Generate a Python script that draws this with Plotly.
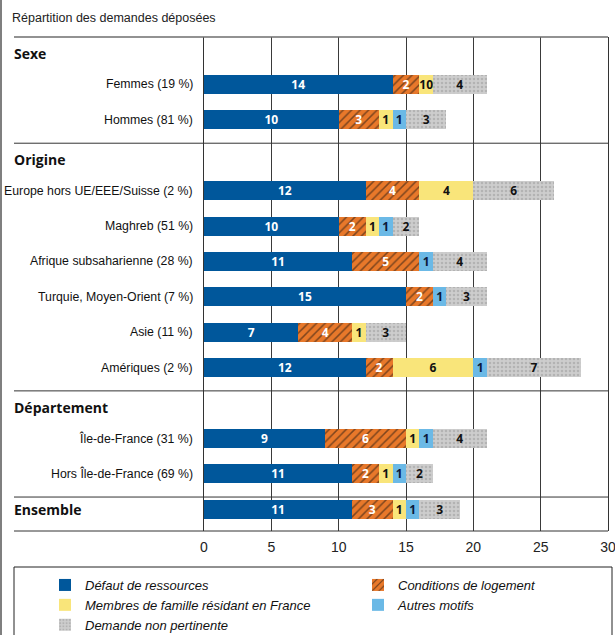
import plotly.graph_objects as go

# ---------------- data ----------------
title_text = "Répartition des demandes déposées"
sections = ["Sexe", "Origine", "Département", "Ensemble"]
rows = ["Femmes (19 %)", "Hommes (81 %)",
        "Europe hors UE/EEE/Suisse (2 %)", "Maghreb (51 %)",
        "Afrique subsaharienne (28 %)", "Turquie, Moyen-Orient (7 %)",
        "Asie (11 %)", "Amériques (2 %)",
        "Île-de-France (31 %)", "Hors Île-de-France (69 %)",
        "Ensemble"]
row_section = [0, 0, 1, 1, 1, 1, 1, 1, 2, 2, 3]

series_names = ["Défaut de ressources", "Conditions de logement",
                "Membres de famille résidant en France", "Autres motifs",
                "Demande non pertinente"]
defaut = [14, 10, 12, 10, 11, 15, 7, 12, 9, 11, 11]
logement = [2, 3, 4, 2, 5, 2, 4, 2, 6, 2, 3]
famille = [1, 1, 4, 1, 0, 0, 1, 6, 1, 1, 1]
autres = [0, 1, 0, 1, 1, 1, 0, 1, 1, 1, 1]
non_pertinente = [4, 3, 6, 2, 4, 3, 3, 7, 4, 2, 3]
# labels as printed in the source (Femmes: "1" and "0" printed together)
famille_labels = ["10", "1", "4", "1", "", "", "1", "6", "1", "1", "1"]

x_ticks = [0, 5, 10, 15, 20, 25, 30]

# ---------------- layout helpers ----------------
W, H = 615, 635
ML, MR, MT, MB = 204, 7, 37, 104
PW, PH = W - ML - MR, H - MT - MB
FONT = "Liberation Sans, Arial, sans-serif"
BOLD = "Open Sans, Liberation Sans, Arial, sans-serif"

# slots: each section header gets its own slot, except "Ensemble" which shares its row
slots = []
header_slot = {}
for si, sec in enumerate(sections):
    sec_rows = [r for r, s in zip(rows, row_section) if s == si]
    header_slot[si] = len(slots)
    if sec != "Ensemble":
        slots.append("hdr_" + sec)
    slots.extend(sec_rows)

r_top, r_bot = -0.342, len(slots) - 0.38


def px_x(p):
    return (p - ML) / PW


def px_y(p):
    return (H - MB - p) / PH


def slot_to_paper(s):
    return (r_bot - s) / (r_bot - r_top)


colors = ["#00579B", "#E8782A", "#F9E57A", "#6BB9E6", "#C9C9C9"]
text_colors = ["white", "white", "#111111", "#0b1a3a", "#111111"]
patterns = [dict(shape=""),
            dict(shape="/", fgcolor="#111111", bgcolor="#E8782A", size=6, solidity=0.25),
            dict(shape=""),
            dict(shape=""),
            dict(shape=".", fgcolor="#9A9A9A", bgcolor="#CDCDCD", size=4, solidity=0.35)]
values = [defaut, logement, famille, autres, non_pertinente]
labels = [[str(v) if v else "" for v in defaut],
          [str(v) if v else "" for v in logement],
          famille_labels,
          [str(v) if v else "" for v in autres],
          [str(v) if v else "" for v in non_pertinente]]
legend_ref = ["legend", "legend2", "legend", "legend2", "legend"]

fig = go.Figure()
for i in range(5):
    fig.add_trace(go.Bar(
        y=rows, x=values[i], orientation="h", name=series_names[i],
        marker=dict(color=colors[i], line=dict(width=0), pattern=patterns[i]),
        text=labels[i], textposition="inside", insidetextanchor="middle",
        textangle=0, constraintext="none",
        insidetextfont=dict(color=text_colors[i], size=12, family=BOLD, weight="bold"),
        legend=legend_ref[i], hoverinfo="skip",
    ))

annotations = []
# title
annotations.append(dict(text=title_text, xref="paper", yref="paper",
                        x=px_x(10), y=px_y(18), xanchor="left", yanchor="middle",
                        showarrow=False, font=dict(family=FONT, size=12.5, color="#222")))
# section headers
hdr_shift = {0: -4, 1: -4, 2: -5, 3: 0}
for si, sec in enumerate(sections):
    annotations.append(dict(text="<b>" + sec + "</b>", xref="paper", yref="paper",
                            x=px_x(12), y=slot_to_paper(header_slot[si]),
                            yshift=hdr_shift[si],
                            xanchor="left", yanchor="middle", showarrow=False,
                            font=dict(family=BOLD, size=14, color="#111")))
# row labels
for r, s in zip(rows, row_section):
    if sections[s] == "Ensemble":
        continue
    annotations.append(dict(text=r, xref="paper", yref="paper",
                            x=px_x(195), y=slot_to_paper(slots.index(r)),
                            xanchor="right", yanchor="middle", showarrow=False,
                            font=dict(family=FONT, size=12.3, color="#111")))

shapes = []
line_c = "#333333"
# top and bottom full-width lines
shapes.append(dict(type="line", xref="paper", yref="paper", x0=px_x(14), x1=1,
                   y0=1, y1=1, line=dict(color="#6e6e6e", width=1.5)))
shapes.append(dict(type="line", xref="paper", yref="paper", x0=px_x(14), x1=1,
                   y0=0, y1=0, line=dict(color=line_c, width=1)))
# section separators
for si in range(1, len(sections)):
    yp = slot_to_paper(header_slot[si] - 0.34)
    shapes.append(dict(type="line", xref="paper", yref="paper", x0=px_x(14), x1=1,
                       y0=yp, y1=yp, line=dict(color=line_c, width=1)))
# outer left frame
shapes.append(dict(type="line", xref="paper", yref="paper", x0=px_x(1), x1=px_x(1),
                   y0=px_y(H + 5), y1=px_y(-5), line=dict(color="#555", width=1.5)))
# legend box
shapes.append(dict(type="rect", xref="paper", yref="paper", x0=px_x(14), x1=px_x(612),
                   y0=px_y(H + 5), y1=px_y(567), line=dict(color="#222", width=1),
                   fillcolor="rgba(0,0,0,0)"))

legend_font = dict(family=FONT, size=13, color="#111", style="italic")
fig.update_layout(
    width=W, height=H, autosize=False,
    margin=dict(l=ML, r=MR, t=MT, b=MB, pad=0, autoexpand=False),
    paper_bgcolor="white", plot_bgcolor="white",
    barmode="stack", bargap=0.463,
    uniformtext=dict(minsize=12, mode="show"),
    font=dict(family=FONT, size=14, color="#222"),
    xaxis=dict(range=[0, 30], tickvals=x_ticks, showgrid=True, gridcolor="#3a3a3a",
               gridwidth=1, zeroline=False, showline=False, ticks="",
               ticklabelstandoff=6, ticklabeloverflow="allow",
               tickfont=dict(family=FONT, size=14, color="#222"), fixedrange=True),
    yaxis=dict(type="category", categoryorder="array", categoryarray=slots,
               range=[r_bot, r_top], showticklabels=False, showgrid=False,
               zeroline=False, showline=True, mirror=True, linecolor=line_c,
               linewidth=1, ticks="", fixedrange=True),
    showlegend=True,
    legend=dict(orientation="v", traceorder="normal", x=px_x(45), xanchor="left",
                y=px_y(570), yanchor="top", bgcolor="rgba(0,0,0,0)", borderwidth=0,
                itemwidth=30, tracegroupgap=0, font=legend_font),
    legend2=dict(orientation="v", traceorder="normal", x=px_x(358), xanchor="left",
                 y=px_y(570), yanchor="top", bgcolor="rgba(0,0,0,0)", borderwidth=0,
                 itemwidth=30, tracegroupgap=0, font=legend_font),
    annotations=annotations, shapes=shapes,
)

fig.write_html("out.html", config={"displayModeBar": False},
               post_script="document.body.style.margin='0';"
                           "document.body.style.overflow='hidden';")
